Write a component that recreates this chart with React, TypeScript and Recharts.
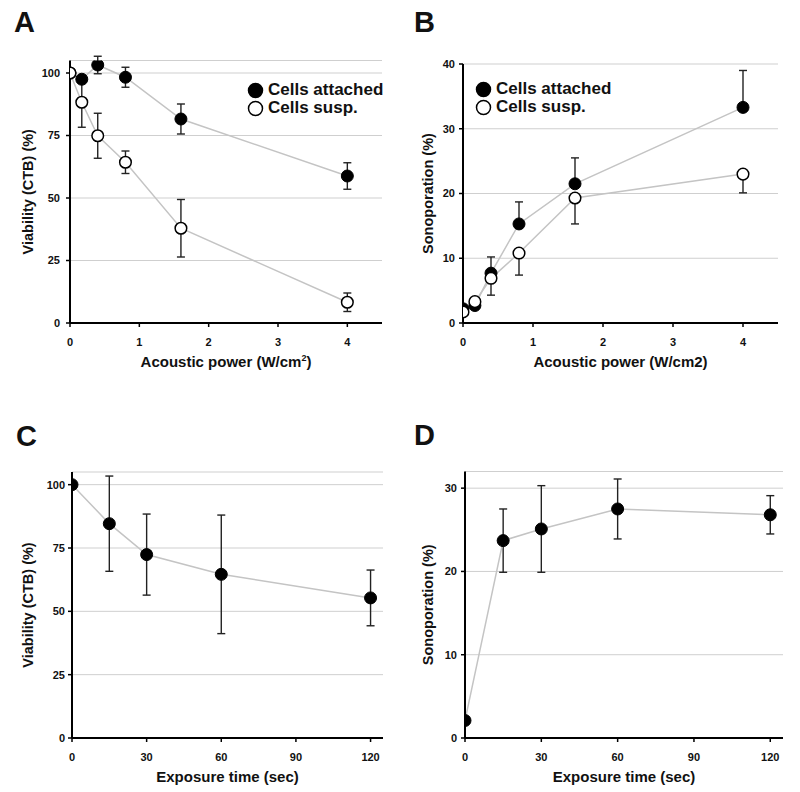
import React from "react";
import { CartesianGrid, ErrorBar, Line, LineChart, XAxis, YAxis } from "recharts";

// acoustic power (W/cm2) panels A + B
const POWER = [0, 0.17, 0.4, 0.8, 1.6, 4];
const VIAB_ATTACHED = [100, 97.5, 103.2, 98.3, 81.6, 58.8];
const VIAB_ATTACHED_ERR = [null, 1, 3.5, 4, 6, 5.3];
const VIAB_SUSP = [100, 88.3, 74.9, 64.3, 37.9, 8.3];
const VIAB_SUSP_ERR = [null, 10, 9, 4.5, 11.5, 3.7];
const SONO_ATTACHED = [2.2, 2.7, 7.7, 15.3, 21.5, 33.3];
const SONO_ATTACHED_ERR_UP = [null, null, 2.5, 3.4, 4, 5.7];
const SONO_SUSP = [1.7, 3.3, 6.9, 10.8, 19.3, 23];
const SONO_SUSP_ERR_DOWN = [null, null, 2.6, 3.4, 4, 2.9];

// exposure time (sec) panels C + D
const TIME = [0, 15, 30, 60, 120];
const TIME_VIAB = [100, 84.6, 72.4, 64.6, 55.3];
const TIME_VIAB_ERR = [null, 18.8, 16, 23.4, 11];
const TIME_SONO = [2.1, 23.7, 25.1, 27.5, 26.8];
const TIME_SONO_ERR = [null, 3.8, 5.2, 3.6, 2.3];

const FONT = "'Liberation Sans', Arial, Helvetica, sans-serif";
const LINE = "#c4c4c4";

const sym = (e: number | null) => (e == null ? null : [e, e]);

const dataA = POWER.map((x, i) => ({
  x,
  att: VIAB_ATTACHED[i],
  attErr: sym(VIAB_ATTACHED_ERR[i]),
  susp: VIAB_SUSP[i],
  suspErr: sym(VIAB_SUSP_ERR[i]),
}));

const dataB = POWER.map((x, i) => ({
  x,
  att: SONO_ATTACHED[i],
  attErr: SONO_ATTACHED_ERR_UP[i] == null ? null : [0, SONO_ATTACHED_ERR_UP[i]],
  susp: SONO_SUSP[i],
  suspErr: SONO_SUSP_ERR_DOWN[i] == null ? null : [SONO_SUSP_ERR_DOWN[i], 0],
}));

const dataC = TIME.map((x, i) => ({ x, att: TIME_VIAB[i], attErr: sym(TIME_VIAB_ERR[i]) }));
const dataD = TIME.map((x, i) => ({ x, att: TIME_SONO[i], attErr: sym(TIME_SONO_ERR[i]) }));

const tickStyle = { fill: "#111", fontSize: 11, fontWeight: 700, fontFamily: FONT };
const filledDot = { r: 6, fill: "#000", stroke: "#000", strokeWidth: 1 };
const openDot = { r: 5.8, fill: "#fff", stroke: "#000", strokeWidth: 1.5 };

function xTitle(text: React.ReactNode) {
  return (p: any) => {
    const vb = p.viewBox;
    return (
      <text
        x={vb.x + vb.width / 2}
        y={vb.y + 44}
        textAnchor="middle"
        fontFamily={FONT}
        fontWeight={700}
        fontSize={15}
        fill="#111"
      >
        {text}
      </text>
    );
  };
}

function yTitle(text: string) {
  return (p: any) => {
    const vb = p.viewBox;
    const cx = 28;
    const cy = vb.y + vb.height / 2;
    return (
      <text
        x={cx}
        y={cy}
        transform={`rotate(-90, ${cx}, ${cy})`}
        textAnchor="middle"
        dominantBaseline="central"
        fontFamily={FONT}
        fontWeight={700}
        fontSize={14.5}
        fill="#111"
      >
        {text}
      </text>
    );
  };
}

interface SeriesDef {
  key: string;
  errKey: string;
  dot: any;
}

function Panel({
  data,
  series,
  height,
  margin,
  yWidth,
  xDomain,
  xTicks,
  yDomain,
  yTicks,
  yTickMargin,
  xTickMargin,
  xLabel,
  yLabel,
}: {
  data: any[];
  series: SeriesDef[];
  height: number;
  margin: any;
  yWidth: number;
  xDomain: number[];
  xTicks: number[];
  yDomain: number[];
  yTicks: number[];
  yTickMargin: number;
  xTickMargin: number;
  xLabel: React.ReactNode;
  yLabel: string;
}) {
  return (
    <LineChart width={400} height={height} data={data} margin={margin}>
      <CartesianGrid vertical={false} stroke="#cfcfcf" strokeWidth={1} />
      <XAxis
        type="number"
        dataKey="x"
        domain={xDomain}
        ticks={xTicks}
        allowDataOverflow
        height={50}
        tickSize={4}
        tickMargin={xTickMargin}
        tick={tickStyle}
        axisLine={{ stroke: "#000", strokeWidth: 2 }}
        tickLine={{ stroke: "#000", strokeWidth: 1.5 }}
        label={{ content: xTitle(xLabel) }}
      />
      <YAxis
        type="number"
        domain={yDomain}
        ticks={yTicks}
        allowDataOverflow
        width={yWidth}
        tickSize={4}
        tickMargin={yTickMargin}
        tick={tickStyle}
        axisLine={{ stroke: "#000", strokeWidth: 2 }}
        tickLine={{ stroke: "#000", strokeWidth: 1.5 }}
        label={{ content: yTitle(yLabel) }}
      />
      {series.map((s) => (
        <Line
          key={s.key}
          dataKey={s.key}
          type="linear"
          stroke={LINE}
          strokeWidth={1.5}
          dot={s.dot}
          activeDot={false}
          isAnimationActive={false}
        >
          <ErrorBar dataKey={s.errKey} width={4} stroke="#222" strokeWidth={1.4} direction="y" />
        </Line>
      ))}
    </LineChart>
  );
}

function LegendBox({ left, top }: { left: number; top: number }) {
  const row = (filled: boolean, label: string) => (
    <div style={{ display: "flex", alignItems: "center", height: 18 }}>
      <svg width={17} height={17} style={{ marginRight: 4 }}>
        <circle
          cx={8.5}
          cy={8.5}
          r={7}
          fill={filled ? "#000" : "#fff"}
          stroke="#000"
          strokeWidth={1.5}
        />
      </svg>
      <span style={{ fontFamily: FONT, fontWeight: 700, fontSize: 17, color: "#111" }}>{label}</span>
    </div>
  );
  return (
    <div style={{ position: "absolute", left, top }}>
      {row(true, "Cells attached")}
      {row(false, "Cells susp.")}
    </div>
  );
}

const letterStyle: React.CSSProperties = {
  position: "absolute",
  fontFamily: FONT,
  fontWeight: 700,
  fontSize: 29,
  lineHeight: "29px",
  color: "#111",
};

export default function App() {
  return (
    <div style={{ position: "absolute", left: 0, top: 0, width: 800, height: 792, background: "#fff" }}>
      <div style={{ position: "absolute", left: 0, top: 0 }}>
        <Panel
          data={dataA}
          series={[
            { key: "att", errKey: "attErr", dot: filledDot },
            { key: "susp", errKey: "suspErr", dot: openDot },
          ]}
          height={390}
          margin={{ top: 60.5, right: 18, left: 10, bottom: 17 }}
          yWidth={60}
          xDomain={[0, 4.5]}
          xTicks={[0, 1, 2, 3, 4]}
          yDomain={[0, 105]}
          yTicks={[0, 25, 50, 75, 100]}
          yTickMargin={6}
          xTickMargin={11}
          xLabel={
            <>
              Acoustic power (W/cm
              <tspan dy={-6} fontSize={9}>
                2
              </tspan>
              <tspan dy={6}>)</tspan>
            </>
          }
          yLabel="Viability (CTB) (%)"
        />
      </div>
      <div style={{ position: "absolute", left: 400, top: 0 }}>
        <Panel
          data={dataB}
          series={[
            { key: "att", errKey: "attErr", dot: filledDot },
            { key: "susp", errKey: "suspErr", dot: openDot },
          ]}
          height={390}
          margin={{ top: 64, right: 22, left: 10, bottom: 17 }}
          yWidth={53}
          xDomain={[0, 4.5]}
          xTicks={[0, 1, 2, 3, 4]}
          yDomain={[0, 40]}
          yTicks={[0, 10, 20, 30, 40]}
          yTickMargin={4}
          xTickMargin={11}
          xLabel="Acoustic power (W/cm2)"
          yLabel="Sonoporation (%)"
        />
      </div>
      <div style={{ position: "absolute", left: 0, top: 400 }}>
        <Panel
          data={dataC}
          series={[{ key: "att", errKey: "attErr", dot: filledDot }]}
          height={392}
          margin={{ top: 72, right: 17, left: 10, bottom: 4 }}
          yWidth={62}
          xDomain={[0, 125]}
          xTicks={[0, 30, 60, 90, 120]}
          yDomain={[0, 105]}
          yTicks={[0, 25, 50, 75, 100]}
          yTickMargin={3}
          xTickMargin={11}
          xLabel="Exposure time (sec)"
          yLabel="Viability (CTB) (%)"
        />
      </div>
      <div style={{ position: "absolute", left: 400, top: 400 }}>
        <Panel
          data={dataD}
          series={[{ key: "att", errKey: "attErr", dot: filledDot }]}
          height={392}
          margin={{ top: 71.5, right: 17, left: 10, bottom: 4 }}
          yWidth={55}
          xDomain={[0, 125]}
          xTicks={[0, 30, 60, 90, 120]}
          yDomain={[0, 32]}
          yTicks={[0, 10, 20, 30]}
          yTickMargin={4}
          xTickMargin={11}
          xLabel="Exposure time (sec)"
          yLabel="Sonoporation (%)"
        />
      </div>

      <LegendBox left={247} top={81} />
      <LegendBox left={475} top={80} />

      <div style={{ ...letterStyle, left: 14, top: 8 }}>A</div>
      <div style={{ ...letterStyle, left: 414, top: 8 }}>B</div>
      <div style={{ ...letterStyle, left: 16, top: 422 }}>C</div>
      <div style={{ ...letterStyle, left: 414, top: 421 }}>D</div>
    </div>
  );
}
